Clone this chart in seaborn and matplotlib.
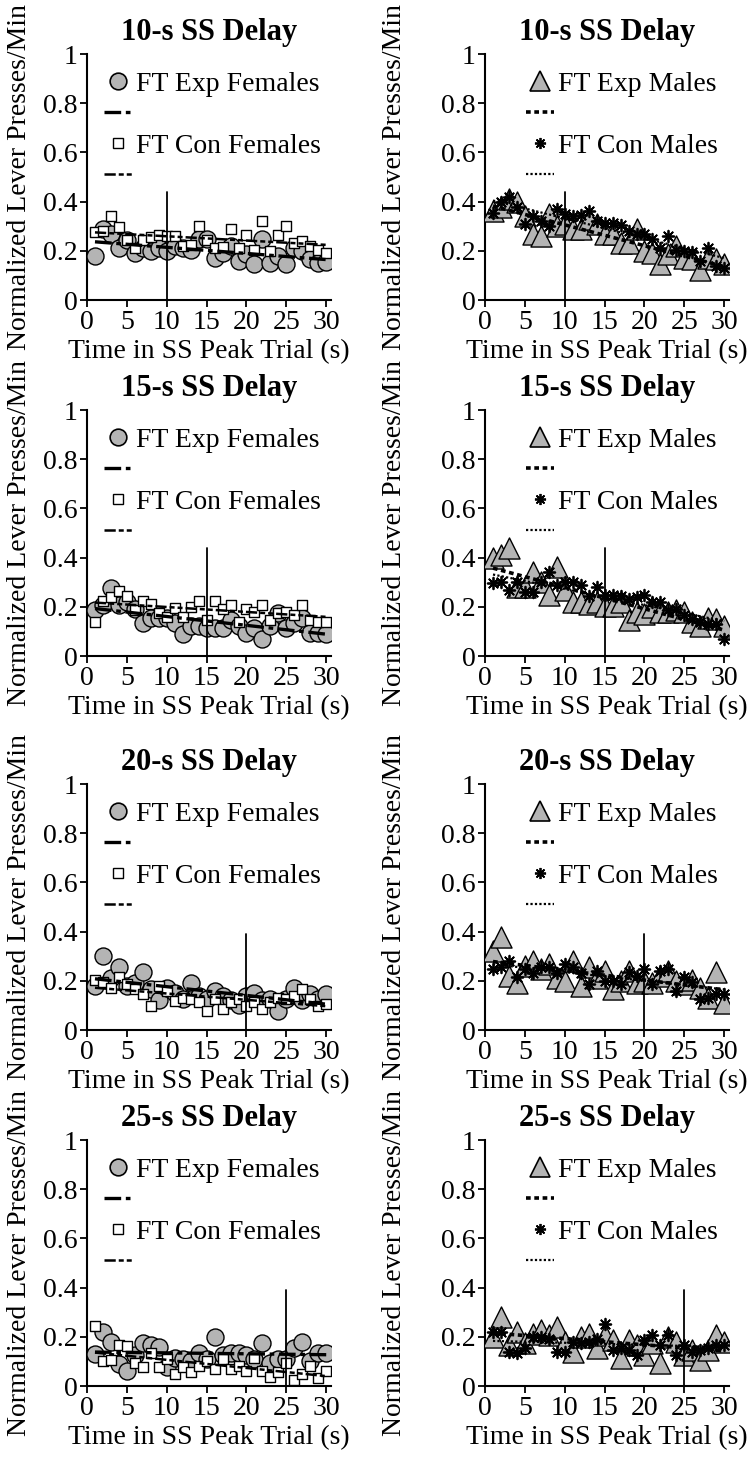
import numpy as np
import pandas as pd
import matplotlib
matplotlib.use("Agg")
import matplotlib.pyplot as plt
from matplotlib.lines import Line2D
import seaborn as sns

# ---------------- data ----------------
time_s = list(range(1, 31))
delays = [10, 15, 20, 25]
titles = ["10-s SS Delay", "15-s SS Delay", "20-s SS Delay", "25-s SS Delay"]

exp_f_10 = [0.18, 0.29, 0.27, 0.21, 0.245, 0.19, 0.21, 0.20, 0.21, 0.20, 0.22, 0.21, 0.205, 0.25, 0.25,
            0.17, 0.19, 0.22, 0.16, 0.185, 0.145, 0.25, 0.15, 0.18, 0.145, 0.21, 0.20, 0.165, 0.15, 0.153]
con_f_10 = [0.277, 0.28, 0.34, 0.295, 0.245, 0.21, 0.245, 0.257, 0.265, 0.26, 0.262, 0.22, 0.224, 0.30, 0.243,
            0.21, 0.215, 0.287, 0.21, 0.266, 0.205, 0.32, 0.198, 0.266, 0.30, 0.232, 0.24, 0.218, 0.205, 0.19]
exp_m_10 = [0.36, 0.38, 0.41, 0.40, 0.34, 0.27, 0.26, 0.35, 0.30, 0.31, 0.29, 0.29, 0.33, 0.31, 0.27,
            0.27, 0.23, 0.23, 0.29, 0.20, 0.19, 0.145, 0.185, 0.22, 0.17, 0.165, 0.12, 0.17, 0.165, 0.145]
con_m_10 = [0.355, 0.40, 0.42, 0.38, 0.31, 0.34, 0.32, 0.30, 0.37, 0.35, 0.34, 0.345, 0.36, 0.32, 0.315,
            0.315, 0.305, 0.28, 0.27, 0.27, 0.25, 0.21, 0.26, 0.205, 0.20, 0.195, 0.16, 0.21, 0.14, 0.13]

exp_f_15 = [0.187, 0.207, 0.275, 0.207, 0.22, 0.19, 0.135, 0.155, 0.155, 0.155, 0.135, 0.09, 0.12, 0.12, 0.115,
            0.115, 0.115, 0.148, 0.12, 0.095, 0.115, 0.07, 0.12, 0.175, 0.115, 0.135, 0.155, 0.095, 0.095, 0.09]
con_f_15 = [0.14, 0.225, 0.24, 0.265, 0.245, 0.187, 0.225, 0.21, 0.175, 0.16, 0.196, 0.16, 0.20, 0.222, 0.148,
            0.222, 0.193, 0.207, 0.14, 0.193, 0.178, 0.207, 0.148, 0.175, 0.18, 0.167, 0.207, 0.148, 0.14, 0.14]
exp_m_15 = [0.40, 0.41, 0.44, 0.28, 0.28, 0.34, 0.30, 0.25, 0.36, 0.27, 0.22, 0.22, 0.21, 0.22, 0.205,
            0.205, 0.22, 0.145, 0.18, 0.17, 0.20, 0.18, 0.18, 0.185, 0.18, 0.14, 0.12, 0.155, 0.15, 0.12]
con_m_15 = [0.295, 0.30, 0.27, 0.30, 0.26, 0.26, 0.30, 0.34, 0.29, 0.30, 0.30, 0.29, 0.245, 0.28, 0.25,
            0.25, 0.245, 0.23, 0.24, 0.25, 0.22, 0.22, 0.185, 0.19, 0.165, 0.15, 0.14, 0.13, 0.13, 0.07]

exp_f_20 = [0.18, 0.30, 0.21, 0.255, 0.18, 0.19, 0.235, 0.165, 0.12, 0.17, 0.15, 0.125, 0.19, 0.14, 0.125,
            0.16, 0.14, 0.12, 0.10, 0.14, 0.15, 0.12, 0.125, 0.078, 0.125, 0.17, 0.12, 0.145, 0.125, 0.145]
con_f_20 = [0.204, 0.196, 0.169, 0.214, 0.186, 0.166, 0.146, 0.098, 0.18, 0.16, 0.118, 0.132, 0.125, 0.112, 0.078,
            0.125, 0.084, 0.112, 0.125, 0.098, 0.112, 0.084, 0.112, 0.132, 0.125, 0.139, 0.166, 0.125, 0.098, 0.105]
exp_m_20 = [0.32, 0.38, 0.22, 0.19, 0.26, 0.28, 0.25, 0.27, 0.21, 0.20, 0.28, 0.18, 0.255, 0.21, 0.24,
            0.165, 0.20, 0.24, 0.19, 0.20, 0.19, 0.22, 0.24, 0.20, 0.185, 0.205, 0.17, 0.13, 0.235, 0.11]
con_m_20 = [0.25, 0.255, 0.28, 0.215, 0.25, 0.23, 0.255, 0.255, 0.23, 0.27, 0.255, 0.23, 0.185, 0.24, 0.20,
            0.20, 0.185, 0.235, 0.22, 0.25, 0.185, 0.24, 0.25, 0.16, 0.215, 0.195, 0.125, 0.13, 0.145, 0.145]

exp_f_25 = [0.13, 0.22, 0.18, 0.09, 0.063, 0.128, 0.174, 0.167, 0.16, 0.076, 0.115, 0.108, 0.10, 0.135, 0.108,
            0.20, 0.128, 0.135, 0.135, 0.128, 0.108, 0.174, 0.095, 0.108, 0.108, 0.154, 0.18, 0.10, 0.135, 0.135]
con_f_25 = [0.243, 0.10, 0.105, 0.167, 0.163, 0.095, 0.076, 0.135, 0.076, 0.108, 0.05, 0.076, 0.056, 0.082, 0.10,
            0.07, 0.108, 0.07, 0.082, 0.063, 0.115, 0.063, 0.037, 0.056, 0.095, 0.026, 0.05, 0.082, 0.034, 0.06]
exp_m_25 = [0.20, 0.28, 0.167, 0.22, 0.173, 0.213, 0.227, 0.207, 0.24, 0.18, 0.14, 0.20, 0.213, 0.153, 0.207,
            0.187, 0.113, 0.187, 0.167, 0.127, 0.173, 0.093, 0.20, 0.18, 0.127, 0.147, 0.107, 0.147, 0.207, 0.18]
con_m_25 = [0.22, 0.22, 0.14, 0.133, 0.153, 0.20, 0.20, 0.193, 0.14, 0.14, 0.18, 0.173, 0.18, 0.193, 0.253,
            0.147, 0.153, 0.147, 0.127, 0.187, 0.207, 0.167, 0.207, 0.127, 0.167, 0.14, 0.147, 0.153, 0.167, 0.167]

exp_f = [exp_f_10, exp_f_15, exp_f_20, exp_f_25]
con_f = [con_f_10, con_f_15, con_f_20, con_f_25]
exp_m = [exp_m_10, exp_m_15, exp_m_20, exp_m_25]
con_m = [con_m_10, con_m_15, con_m_20, con_m_25]

yticks = [0, 0.2, 0.4, 0.6, 0.8, 1]
ytick_labels = ["0", "0.2", "0.4", "0.6", "0.8", "1"]
xticks = [0, 5, 10, 15, 20, 25, 30]
xlabel = "Time in SS Peak Trial (s)"
ylabel = "Normalized Lever Presses/Min"
labels_f = ["FT Exp Females", "FT Con Females"]
labels_m = ["FT Exp Males", "FT Con Males"]

# ---------------- style ----------------
sns.set_theme(style="ticks")
plt.rcParams["font.family"] = ["Liberation Serif", "DejaVu Serif"]
plt.rcParams["axes.edgecolor"] = "black"
plt.rcParams["xtick.color"] = "black"
plt.rcParams["ytick.color"] = "black"
plt.rcParams["text.color"] = "black"
plt.rcParams["axes.labelcolor"] = "black"

W, H = 751, 1458
fig = plt.figure(figsize=(W / 100, H / 100), dpi=100)

GRAY = "#b4b4b4"
col_left = [87, 485]
ax_w = 244
row_y0 = [300, 656, 1030, 1386]
ax_h = 246
vline_top = [0.44, 0.44, 0.39, 0.39]

FS = 20

ls_exp_f = (0, (5.0, 1.4, 1.4, 1.4))
ls_con_f = (0, (4.5, 1.2, 2.0, 1.2, 2.0, 1.2))
ls_exp_m = (0, (1.3, 1.0))
ls_con_m = (0, (1.0, 1.0))

for r in range(4):
    for c in range(2):
        left = col_left[c]
        ax = fig.add_axes([left / W, 1 - row_y0[r] / H, ax_w / W, ax_h / H])
        if c == 0:
            d1 = pd.DataFrame({"t": time_s, "v": exp_f[r]})
            d2 = pd.DataFrame({"t": time_s, "v": con_f[r]})
            sns.scatterplot(data=d1, x="t", y="v", ax=ax, marker="o", s=150,
                            color=GRAY, edgecolor="black", linewidth=1.0, zorder=3)
            sns.scatterplot(data=d2, x="t", y="v", ax=ax, marker="s", s=55,
                            color="white", edgecolor="black", linewidth=1.0, zorder=4)
            sns.regplot(data=d1, x="t", y="v", ax=ax, scatter=False, ci=None,
                        line_kws=dict(color="black", lw=2.4, linestyle=ls_exp_f, zorder=5))
            sns.regplot(data=d2, x="t", y="v", ax=ax, scatter=False, ci=None,
                        line_kws=dict(color="black", lw=1.8, linestyle=ls_con_f, zorder=5))
            handles = [
                Line2D([], [], marker="o", ls="none", markersize=12, markerfacecolor=GRAY,
                       markeredgecolor="black", markeredgewidth=1.2),
                Line2D([], [], color="black", lw=2.4, linestyle=ls_exp_f),
                Line2D([], [], marker="s", ls="none", markersize=6.5, markerfacecolor="white",
                       markeredgecolor="black", markeredgewidth=1.0),
                Line2D([], [], color="black", lw=1.8, linestyle=ls_con_f),
            ]
            labels = [labels_f[0], "", labels_f[1], ""]
            leg_x = 0.07
            ylab_x = -0.225
        else:
            d1 = pd.DataFrame({"t": time_s, "v": exp_m[r]})
            d2 = pd.DataFrame({"t": time_s, "v": con_m[r]})
            sns.scatterplot(data=d1, x="t", y="v", ax=ax, marker="^", s=230,
                            color=GRAY, edgecolor="black", linewidth=1.0, zorder=3)
            sns.scatterplot(data=d2, x="t", y="v", ax=ax, marker=(8, 2, 0), s=70,
                            color="black", edgecolor="black", linewidth=1.3, zorder=4)
            sns.regplot(data=d1, x="t", y="v", ax=ax, scatter=False, ci=None,
                        line_kws=dict(color="black", lw=2.6, linestyle=ls_exp_m, zorder=5))
            sns.regplot(data=d2, x="t", y="v", ax=ax, scatter=False, ci=None,
                        line_kws=dict(color="black", lw=1.6, linestyle=ls_con_m, zorder=5))
            handles = [
                Line2D([], [], marker="^", ls="none", markersize=14, markerfacecolor=GRAY,
                       markeredgecolor="black", markeredgewidth=1.2),
                Line2D([], [], color="black", lw=2.6, linestyle=ls_exp_m),
                Line2D([], [], marker=(8, 2, 0), ls="none", markersize=8, color="black",
                       markeredgewidth=1.3),
                Line2D([], [], color="black", lw=1.6, linestyle=ls_con_m),
            ]
            labels = [labels_m[0], "", labels_m[1], ""]
            leg_x = 0.17
            ylab_x = -0.32

        ax.axvline(delays[r], ymin=0, ymax=vline_top[r], color="black", lw=1.3, zorder=6)

        ax.set_xlim(0, 30.6)
        ax.set_ylim(0, 1)
        ax.set_xticks(xticks)
        ax.set_xticklabels([str(t) for t in xticks])
        ax.set_yticks(yticks)
        ax.set_yticklabels(ytick_labels)
        ax.tick_params(axis="both", labelsize=FS, direction="out", length=5, width=1.3, pad=2)
        for s in ["left", "bottom"]:
            ax.spines[s].set_linewidth(1.5)
        sns.despine(ax=ax)
        ax.set_xlabel(xlabel, fontsize=FS, labelpad=3)
        ax.set_ylabel(ylabel, fontsize=FS)
        ax.yaxis.set_label_coords(ylab_x, 0.5)
        ax.set_title(titles[r], fontsize=22, fontweight="bold", pad=10)

        leg = ax.legend(handles, labels, loc="upper left", bbox_to_anchor=(leg_x, 0.93),
                        frameon=False, fontsize=FS, handlelength=1.0, handletextpad=0.15,
                        labelspacing=0.2, borderpad=0, borderaxespad=0)

fig.savefig("out.png", dpi=100)
